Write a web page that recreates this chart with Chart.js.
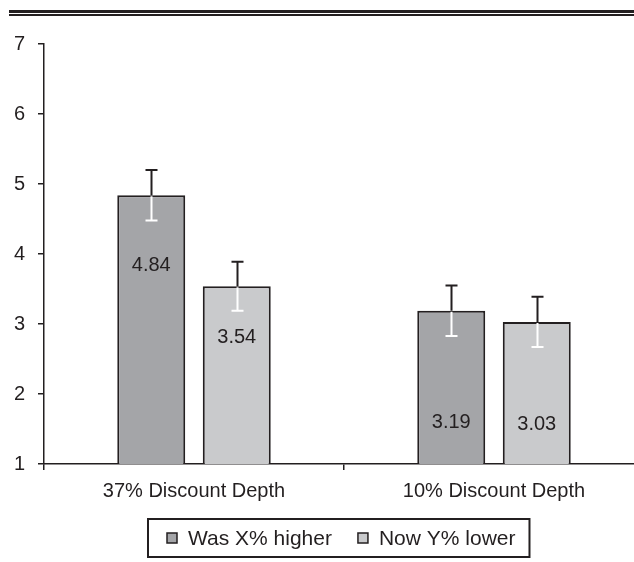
<!DOCTYPE html>
<html>
<head>
<meta charset="utf-8">
<script src="https://cdn.jsdelivr.net/npm/chart.js@4/dist/chart.umd.min.js"></script>
<style>
  html, body { margin: 0; padding: 0; background: #ffffff; overflow: hidden; }
  #wrap { position: absolute; left: 0; top: 0; width: 660px; height: 562px; }
</style>
</head>
<body>
<div id="wrap"><canvas id="c" width="660" height="562"></canvas></div>
<script>
// ---- data ----
const categories = ["37% Discount Depth", "10% Discount Depth"];
const seriesNames = ["Was X% higher", "Now Y% lower"];
const wasHigher = [4.84, 3.19];
const nowLower = [3.54, 3.03];
const wasHigherErr = [0.36, 0.36];
const nowLowerErr = [0.35, 0.36];
const yTicks = [1, 2, 3, 4, 5, 6, 7];

// ---- style ----
const INK = '#231f20';
const FONT = '"Liberation Sans", Arial, sans-serif';
const colors = ['#a4a5a8', '#c9cacc'];
// value-label anchor heights (in axis units)
const labelAnchor = [[3.84, 1.60], [2.81, 1.57]];

const errs = [wasHigherErr, nowLowerErr];

const topRule = {
  id: 'topRule',
  beforeDraw(chart) {
    const ctx = chart.ctx;
    ctx.save();
    ctx.fillStyle = INK;
    ctx.fillRect(9, 10, 660, 3);
    ctx.fillRect(9, 14, 660, 2);
    ctx.restore();
  }
};

const errorBars = {
  id: 'errorBars',
  afterDatasetsDraw(chart) {
    const ctx = chart.ctx;
    const y = chart.scales.y;
    chart.data.datasets.forEach((ds, di) => {
      const meta = chart.getDatasetMeta(di);
      meta.data.forEach((bar, i) => {
        const v = ds.data[i], e = errs[di][i];
        const x = Math.round(bar.x) + 0.5;
        const yTop = y.getPixelForValue(v + e);
        const yBot = y.getPixelForValue(v - e);
        const yBar = bar.y;
        ctx.save();
        ctx.lineWidth = 2;
        ctx.strokeStyle = INK;
        ctx.beginPath();
        ctx.moveTo(x, yTop); ctx.lineTo(x, yBar);
        ctx.moveTo(x - 6, yTop); ctx.lineTo(x + 6, yTop);
        ctx.stroke();
        ctx.strokeStyle = '#ffffff';
        ctx.beginPath();
        ctx.moveTo(x, yBar + 1); ctx.lineTo(x, yBot);
        ctx.moveTo(x - 6, yBot); ctx.lineTo(x + 6, yBot);
        ctx.stroke();
        ctx.restore();
      });
    });
  }
};

const valueLabels = {
  id: 'valueLabels',
  afterDatasetsDraw(chart) {
    const ctx = chart.ctx;
    const y = chart.scales.y;
    ctx.save();
    ctx.font = '20px ' + FONT;
    ctx.fillStyle = INK;
    ctx.textAlign = 'center';
    ctx.textBaseline = 'middle';
    chart.data.datasets.forEach((ds, di) => {
      const meta = chart.getDatasetMeta(di);
      meta.data.forEach((bar, i) => {
        ctx.fillText(ds.data[i].toFixed(2), bar.x, y.getPixelForValue(labelAnchor[di][i]));
      });
    });
    ctx.restore();
  }
};

const boxedLegend = {
  id: 'boxedLegend',
  afterDraw(chart) {
    const ctx = chart.ctx;
    ctx.save();
    ctx.font = '21px ' + FONT;
    const box = 10, gap = 11, itemGap = 26, padL = 19, padR = 14;
    const items = chart.data.datasets.map(ds => ({ text: ds.label, fill: ds.backgroundColor, w: ctx.measureText(ds.label).width }));
    let content = 0;
    items.forEach((it, k) => { content += box + gap + it.w + (k ? itemGap : 0); });
    const boxW = padL + content + padR;
    const cx = 339;
    const left = Math.round(cx - boxW / 2);
    const top = 519, h = 38;
    ctx.strokeStyle = INK;
    ctx.lineWidth = 2;
    ctx.strokeRect(left, top, boxW, h);
    const midY = top + h / 2;
    let x = left + padL;
    items.forEach((it, k) => {
      if (k) x += itemGap;
      ctx.fillStyle = it.fill;
      ctx.fillRect(x, midY - box / 2, box, box);
      ctx.lineWidth = 1.5;
      ctx.strokeRect(x, midY - box / 2, box, box);
      x += box + gap;
      ctx.fillStyle = INK;
      ctx.textAlign = 'left';
      ctx.textBaseline = 'middle';
      ctx.fillText(it.text, x, midY + 1);
      x += it.w;
    });
    ctx.restore();
  }
};

new Chart(document.getElementById('c'), {
  type: 'bar',
  data: {
    labels: categories,
    datasets: [
      { label: seriesNames[0], data: wasHigher, backgroundColor: colors[0], borderColor: INK, borderWidth: 2, borderSkipped: false },
      { label: seriesNames[1], data: nowLower, backgroundColor: colors[1], borderColor: INK, borderWidth: 2, borderSkipped: false }
    ]
  },
  options: {
    responsive: false,
    animation: false,
    events: [],
    categoryPercentage: 0.57,
    barPercentage: 0.795,
    layout: { padding: { top: 44, right: 16, bottom: 0, left: 0 } },
    plugins: { legend: { display: false }, tooltip: { enabled: false } },
    scales: {
      x: {
        afterFit(s) { s.height = 98; },
        grid: { offset: true, drawOnChartArea: false, drawTicks: true, tickLength: 6, color: INK, lineWidth: 1.5 },
        border: { display: true, color: INK, width: 1.5 },
        ticks: { color: INK, font: { family: FONT, size: 20 }, padding: 9, maxRotation: 0 }
      },
      y: {
        min: 1, max: 7,
        afterFit(s) { s.width = 44; },
        afterBuildTicks(s) { s.ticks = yTicks.map(v => ({ value: v })); },
        grid: { drawOnChartArea: false, drawTicks: true, tickLength: 6, color: INK, lineWidth: 1.5 },
        border: { display: true, color: INK, width: 1.5 },
        ticks: { color: INK, font: { family: FONT, size: 20 }, padding: 13 }
      }
    }
  },
  plugins: [topRule, errorBars, valueLabels, boxedLegend]
});
</script>
</body>
</html>
